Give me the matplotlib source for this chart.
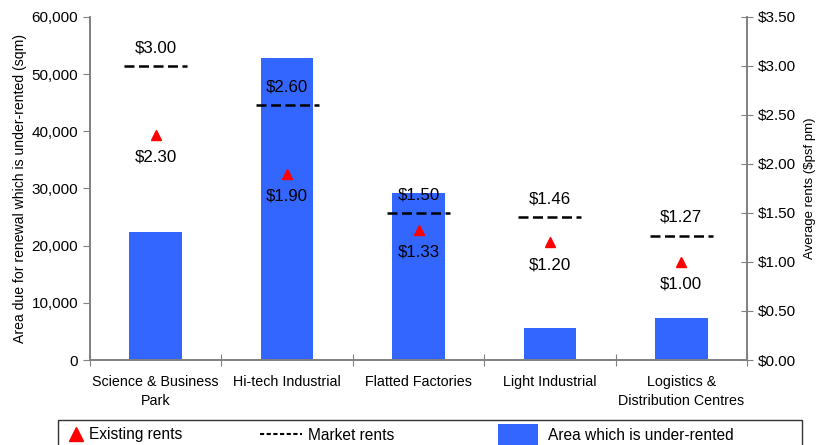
import matplotlib.pyplot as plt
import numpy as np
from matplotlib.patches import Rectangle

plt.rcParams['font.family'] = ['Liberation Sans', 'DejaVu Sans']

# Data
categories = ['Science & Business\nPark', 'Hi-tech Industrial', 'Flatted Factories',
              'Light Industrial', 'Logistics &\nDistribution Centres']
area_sqm = [22400, 52800, 29200, 5600, 7400]
existing_rents = [2.30, 1.90, 1.33, 1.20, 1.00]
market_rents = [3.00, 2.60, 1.50, 1.46, 1.27]
legend_labels = ['Existing rents', 'Market rents', 'Area which is under-rented']

bar_color = '#3366FF'
axis_gray = '#808080'

fig = plt.figure(figsize=(8.2, 4.45), dpi=100)
ax = fig.add_axes([0.1098, 0.191, 0.8012, 0.771])
ax2 = ax.twinx()

x = np.arange(len(categories))
ax.bar(x, area_sqm, width=0.40, color=bar_color, zorder=2)
ax.set_xlim(-0.5, len(categories) - 0.5)
ax.set_ylim(0, 60000)
ax.set_yticks(np.arange(0, 60001, 10000))
ax.set_yticklabels(['{:,}'.format(v) for v in range(0, 60001, 10000)])
ax.set_ylabel('Area due for renewal which is under-rented (sqm)', fontsize=10.1,
              labelpad=3)

# category ticks sit between the groups, labels centred under the bars
ax.set_xticks(np.arange(-0.5, len(categories), 1.0))
ax.set_xticklabels([])
ax.set_xticks(x, minor=True)
ax.set_xticklabels(categories, minor=True, fontsize=10.3, linespacing=1.45)
ax.tick_params(axis='x', which='minor', length=0, pad=11)
ax.tick_params(axis='x', which='major', direction='inout', length=8, color=axis_gray)
ax.tick_params(axis='y', direction='out', length=5, color=axis_gray, labelsize=11)

ax2.set_ylim(0, 3.5)
ax2.set_yticks(np.arange(0, 3.51, 0.5))
ax2.set_yticklabels(['${:.2f}'.format(v) for v in np.arange(0, 3.51, 0.5)])
ax2.set_ylabel('Average rents (\\$psf pm)', fontsize=9.5, labelpad=6)
ax2.tick_params(axis='y', direction='inout', length=8, color=axis_gray, labelsize=11)

for a in (ax, ax2):
    a.spines['top'].set_visible(False)
    for s in ('left', 'right', 'bottom'):
        a.spines[s].set_color(axis_gray)
        a.spines[s].set_linewidth(1.2)

# market rents as short dashed segments, existing rents as triangles
for i in range(len(categories)):
    ax2.plot([x[i] - 0.24, x[i] + 0.24], [market_rents[i]] * 2, color='black',
             linestyle=(0, (4, 1.8)), linewidth=1.8, zorder=3)
    ax2.text(x[i], market_rents[i] + 0.11, '\\${:.2f}'.format(market_rents[i]),
             ha='center', va='bottom', fontsize=12.2)
ax2.plot(x, existing_rents, linestyle='none', marker='^', color='red',
         markersize=7, zorder=4)
for i in range(len(categories)):
    ax2.text(x[i], existing_rents[i] - 0.15, '\\${:.2f}'.format(existing_rents[i]),
             ha='center', va='top', fontsize=12.2)

# legend box along the bottom edge, drawn in pixel units
lax = fig.add_axes([0, 0, 1, 1], zorder=-1)
lax.set_xlim(0, 820)
lax.set_ylim(445, 0)
lax.axis('off')
lax.add_patch(Rectangle((58, 420), 744, 40, fill=False, edgecolor='#333333',
                        linewidth=1.0, clip_on=False))
lax.plot([76], [434], marker='^', color='red', markersize=10.5, linestyle='none')
lax.plot([260, 302], [434, 434], color='black', linestyle=(0, (2, 1.2)), linewidth=1.5)
lax.add_patch(Rectangle((498, 424), 40, 25, facecolor=bar_color, edgecolor='none',
                        clip_on=False))
for tx, lbl in zip([89, 308, 548], legend_labels):
    lax.text(tx, 435, lbl, ha='left', va='center', fontsize=11.2)

fig.savefig('out.png', dpi=100)
